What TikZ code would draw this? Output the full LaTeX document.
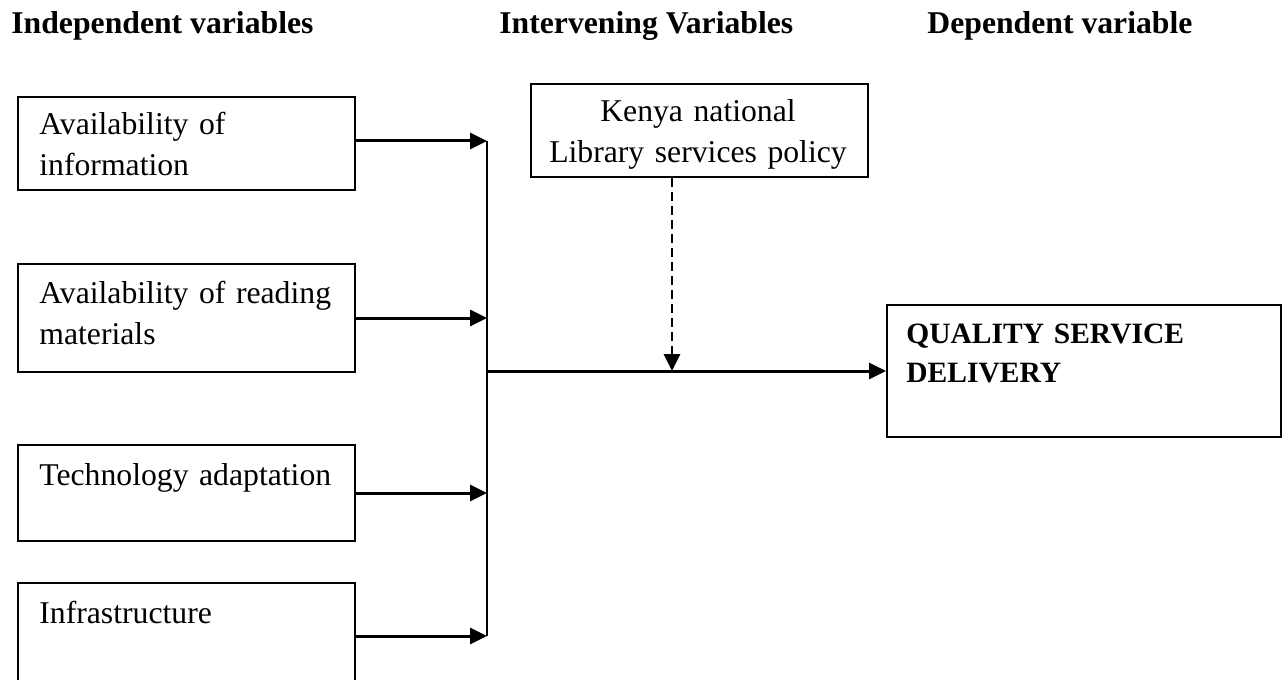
\documentclass[tikz,border=0pt]{standalone}
\usepackage{fontspec}
\setmainfont{Liberation Serif}
\usetikzlibrary{arrows.meta}
\begin{document}
\begin{tikzpicture}[x=0.5pt,y=-0.5pt,
  box/.style={draw, line width=1pt, rectangle, inner sep=0pt, anchor=north west},
  txt/.style={anchor=base west, inner sep=0pt, text width=#1, align=left,
              font=\fontsize{15.85}{20.5}\selectfont},
  txt/.default=160pt,
  ctxt/.style={anchor=base, inner sep=0pt, text width=170pt, align=center,
              font=\fontsize{15.85}{20.5}\selectfont},
  title/.style={anchor=base west, inner sep=0pt, font=\fontsize{15.85}{20.5}\selectfont\bfseries},
  arr/.style={line width=1.5pt, -{Triangle[length=8.5pt, width=8pt]}},
  dasharr/.style={line width=1.4pt, dash pattern=on 4.5pt off 2.5pt, -{Triangle[length=8.5pt, width=8pt]}},
  bus/.style={line width=1pt}
]
\useasboundingbox (0,0) rectangle (1288,679);

% titles
\node[title] (h1) at (11,34) {Independent variables};
\node[title] (h2) at (499,34) {Intervening Variables};
\node[title] (h3) at (927,34) {Dependent variable};

% independent boxes
\node[box, minimum width=168.5pt, minimum height=46.5pt] (b1) at (17,96) {};
\node[txt] (t1) at (39,135) {Availability of\\information};

\node[box, minimum width=168.5pt, minimum height=54pt] (b2) at (17,263) {};
\node[txt] (t2) at (39,303) {Availability of reading\\materials};

\node[box, minimum width=168.5pt, minimum height=48pt] (b3) at (17,444) {};
\node[txt] (t3) at (39,485) {Technology adaptation};

\node[box, minimum width=168.5pt, minimum height=49.5pt] (b4) at (17,582) {};
\node[txt] (t4) at (39,623) {Infrastructure};

% intervening box
\node[box, minimum width=168.5pt, minimum height=46.5pt] (k) at (530,83) {};
\node[ctxt] (kt) at (698,122) {Kenya national\\Library services policy};

% dependent box
\node[box, minimum width=197pt, minimum height=66pt] (q) at (886,304) {};
\node[txt=180pt, font=\fontsize{14.75}{19.5}\selectfont\bfseries] (qt) at (906,343) {QUALITY SERVICE\\DELIVERY};

% bus
\coordinate (bustop) at (487,141);
\coordinate (busbot) at (487,636);
\coordinate (j) at (487,371);
\coordinate (m) at (672,371);

\draw[arr] (354,141) -- (bustop);
\draw[arr] (b2.east) -- (b2.east -| bustop);
\draw[arr] (b3.east) -- (b3.east -| bustop);
\draw[arr] (354,636) -- (busbot);
\draw[bus] (bustop) -- (busbot);

\draw[arr] (j) -- (q.west);
\draw[dasharr] (m |- k.south) -- (m);
\end{tikzpicture}
\end{document}
